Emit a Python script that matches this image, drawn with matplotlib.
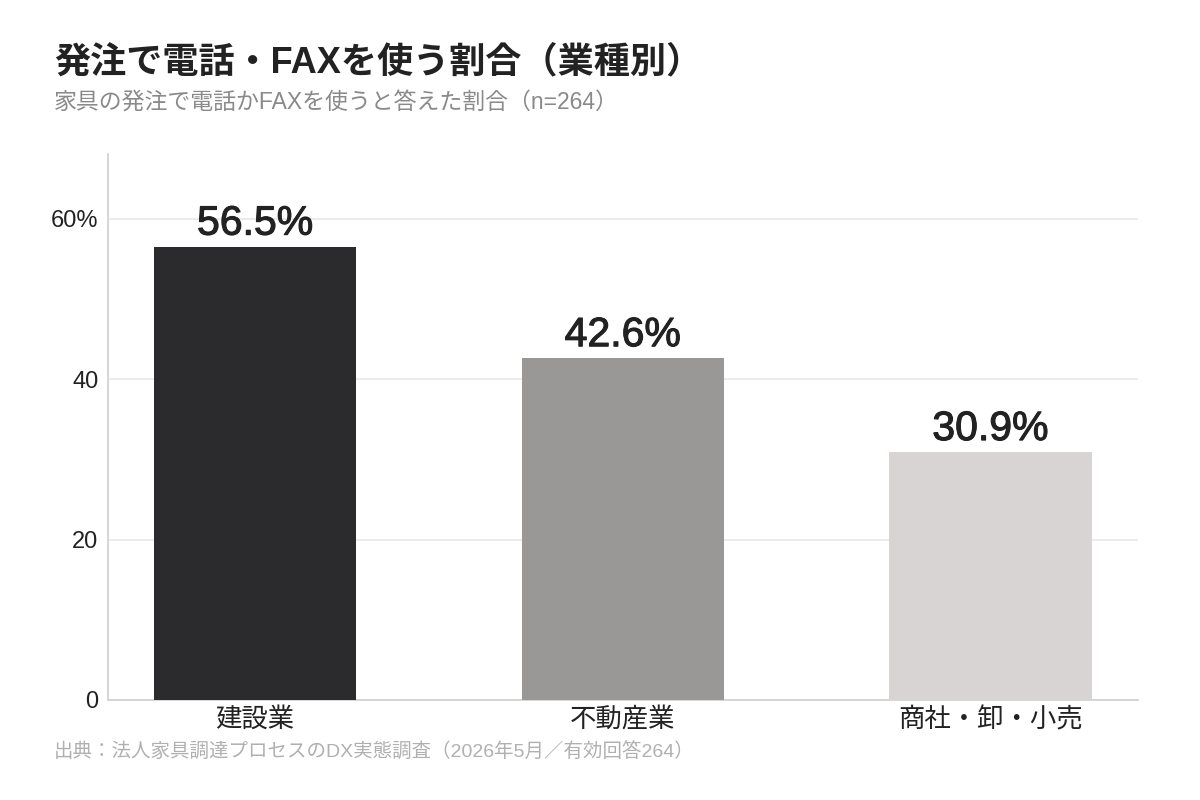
import matplotlib
matplotlib.use("Agg")
import matplotlib.pyplot as plt
import matplotlib.patheffects as pe

# Latin glyphs in an Arial-like face, Japanese from Noto CJK
plt.rcParams['font.family'] = ['Liberation Sans', 'Noto Sans CJK JP', 'DejaVu Sans']

# data
categories = ["建設業", "不動産業", "商社・卸・小売"]
shares = [56.5, 42.6, 30.9]
bar_colors = ["#2b2a2c", "#9a9897", "#d8d4d3"]
yticks = [0, 20, 40, 60]
ytick_labels = ["0", "20", "40", "60%"]

title = "発注で電話・FAXを使う割合（業種別）"
subtitle = "家具の発注で電話かFAXを使うと答えた割合（n=264）"
source = "出典：法人家具調達プロセスのDX実態調査（2026年5月／有効回答264）"

fig = plt.figure(figsize=(12, 8), dpi=100)
ax = fig.add_axes([0.09, 0.125, 0.858, 0.682])

x = range(len(categories))
bars = ax.bar(x, shares, width=0.55, color=bar_colors, zorder=3)

# value labels on top of each bar (thin stroke to get a medium weight)
for b, v in zip(bars, shares):
    ax.text(b.get_x() + b.get_width() / 2, v + 0.5, f"{v:.1f}%",
            ha="center", va="bottom", fontsize=29.5, color="#222222",
            path_effects=[pe.withStroke(linewidth=0.8, foreground="#222222")])

ax.set_xlim(-0.4, 2.4)
ax.set_ylim(0, 68)
ax.set_yticks(yticks)
ax.set_yticklabels(ytick_labels, fontsize=17, color="#222222")
ax.set_xticks(list(x))
ax.set_xticklabels(categories, fontsize=19, color="#222222")
ax.tick_params(axis="both", length=0)
ax.tick_params(axis="y", pad=7)
ax.tick_params(axis="x", pad=5)

ax.grid(axis="y", color="#e8e8e8", linewidth=1.2, zorder=0)
for s in ["top", "right"]:
    ax.spines[s].set_visible(False)
for s in ["left", "bottom"]:
    ax.spines[s].set_color("#d0d0d0")
    ax.spines[s].set_linewidth(1.2)

fig.text(0.045, 0.922, title, fontsize=26, fontweight="bold", color="#222222",
         va="center")
fig.text(0.045, 0.872, subtitle, fontsize=16.5, color="#8a8a8a", va="center")
fig.text(0.045, 0.06, source, fontsize=14, color="#b0b0b0", va="center")

fig.savefig("out.png", dpi=100, facecolor="white")
